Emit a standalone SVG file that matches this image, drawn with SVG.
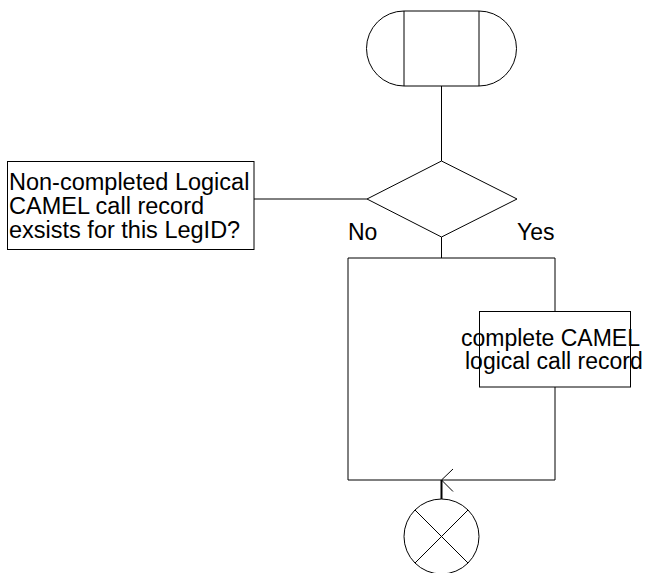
<svg xmlns="http://www.w3.org/2000/svg" width="648" height="573" viewBox="0 0 648 573">
<style>
.s{fill:none;stroke:#000;stroke-width:1}
.b{fill:#fff;stroke:#000;stroke-width:1}
.t{font-family:"Liberation Sans",Arial,sans-serif;font-size:23px;fill:#000}
.tl{font-size:23.5px}
</style>
<rect width="648" height="573" fill="#fff"/>
<g id="connectors">
<line class="s" x1="441.5" y1="86" x2="441.5" y2="161"/>
<line class="s" x1="254" y1="199" x2="367" y2="199"/>
<line class="s" x1="441.5" y1="237" x2="441.5" y2="258"/>
<path class="s" d="M555,311.5 V258 H348 V480 H555 V387"/>
<path class="s" d="M453,469 L441.5,480 L453,491.5"/>
<line x1="441.5" y1="480" x2="441.5" y2="499" stroke="#000" stroke-width="2"/>
</g>
<g id="start">
<path class="b" d="M404,11 H479 A37.5,37.5 0 0 1 479,86 H404 A37.5,37.5 0 0 1 404,11 Z"/>
<line class="s" x1="404" y1="11" x2="404" y2="86"/>
<line class="s" x1="479" y1="11" x2="479" y2="86"/>
</g>
<g id="decision">
<polygon class="b" points="441.5,161 517,199 441.5,237 367,199"/>
<text class="t" x="348" y="240">No</text>
<text class="t" x="517" y="240">Yes</text>
</g>
<g id="comment">
<rect class="b" x="7.5" y="161.5" width="246.5" height="88"/>
<text class="t tl" x="9" y="190">Non-completed Logical</text>
<text class="t tl" x="9" y="214">CAMEL call record</text>
<text class="t tl" x="9" y="238">exsists for this LegID?</text>
</g>
<g id="complete">
<rect class="s" x="479.5" y="311.5" width="151" height="75.5"/>
<text class="t" x="461" y="345.5">complete CAMEL</text>
<text class="t" x="465" y="369">logical call record</text>
</g>
<g id="end">
<circle class="b" cx="441.5" cy="536.5" r="37.5"/>
<line class="s" x1="415" y1="510" x2="468" y2="563"/>
<line class="s" x1="468" y1="510" x2="415" y2="563"/>
</g>
</svg>
